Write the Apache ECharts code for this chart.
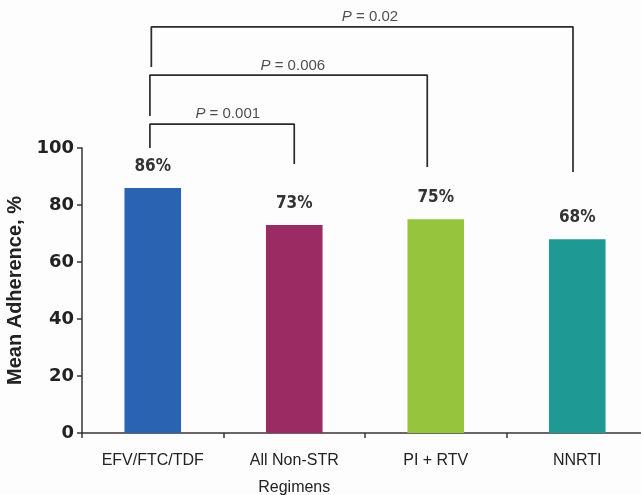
<!DOCTYPE html>
<html>
<head>
<meta charset="utf-8">
<script src="https://cdn.jsdelivr.net/npm/echarts@6/dist/echarts.min.js"></script>
<style>
html,body{margin:0;padding:0;background:#fdfdfe;}
#c{width:641px;height:495px;}
</style>
</head>
<body>
<div id="c"></div>
<script>
var categories = ['EFV/FTC/TDF', 'All Non-STR\nRegimens', 'PI + RTV', 'NNRTI'];
var values = [86, 73, 75, 68];
var barColors = ['#2a63b1', '#9a2c63', '#97c43d', '#1f9994'];
var yTicks = [0, 20, 40, 60, 80, 100];

// bracket: [leftX, rightX, leftBottom, top, rightBottom] in axis units
var bracket001 = [-0.02, 1.0, 100, 108.4, 94.4];
var bracket006 = [-0.02, 1.94, 111.2, 125.6, 93.3];
var bracket002 = [-0.01, 2.97, 128.4, 142.5, 91.6];
var pLabels = ['0.001', '0.006', '0.02'];
// label anchor [x, y]
var pLabelPos = [[0.53, 111.9], [0.99, 128.8], [1.535, 146.0]];

function bracketLine(b) {
  return {
    type: 'line',
    xAxisIndex: 1,
    yAxisIndex: 0,
    clip: false,
    symbol: 'none',
    silent: true,
    animation: false,
    lineStyle: { color: '#2b2b2b', width: 1.7 },
    data: [[b[0], b[2]], [b[0], b[3]], [b[1], b[3]], [b[1], b[4]]]
  };
}

var chart = echarts.init(document.getElementById('c'));
chart.setOption({
  backgroundColor: '#fdfdfe',
  animation: false,
  grid: { left: 82, top: 148, width: 566, height: 285, containLabel: false, outerBoundsMode: 'none' },
  xAxis: [{
    type: 'category',
    data: categories,
    axisLine: { lineStyle: { color: '#3b3535', width: 1.5 } },
    axisTick: { show: true, length: 5, lineStyle: { color: '#3b3535', width: 1.5 } },
    axisLabel: { fontFamily: 'Liberation Sans, Arial', fontSize: 16, color: '#222', margin: 14, lineHeight: 27 }
  }, {
    type: 'value',
    min: -0.5,
    max: 3.5,
    show: false
  }],
  yAxis: {
    type: 'value',
    min: 0,
    max: 100,
    interval: 20,
    name: 'Mean Adherence, %',
    nameLocation: 'middle',
    nameGap: 57,
    nameTextStyle: { fontFamily: 'Liberation Sans, Arial', fontSize: 20, fontWeight: 'bold', color: '#222' },
    splitLine: { show: false },
    axisLine: { show: true, onZero: false, lineStyle: { color: '#3b3535', width: 1.5 } },
    axisTick: { show: true, length: 5, lineStyle: { color: '#3b3535', width: 1.5 } },
    axisLabel: {
      fontFamily: 'DejaVu Sans', fontSize: 18, fontWeight: 'bold', color: '#222', margin: 8,
      formatter: function (v) { return yTicks.indexOf(v) >= 0 ? String(v) : ''; }
    }
  },
  series: [{
    type: 'bar',
    barWidth: '40%',
    data: values.map(function (v, i) {
      return { value: v, itemStyle: { color: barColors[i] } };
    }),
    label: {
      show: true,
      position: 'top',
      distance: 13,
      formatter: '{c}%',
      fontFamily: 'DejaVu Sans Condensed',
      fontWeight: 'bold',
      fontSize: 17,
      color: '#333'
    }
  },
  bracketLine(bracket001),
  bracketLine(bracket006),
  bracketLine(bracket002),
  {
    type: 'scatter',
    xAxisIndex: 1,
    yAxisIndex: 0,
    clip: false,
    symbolSize: 0,
    silent: true,
    data: pLabelPos.map(function (p, i) { return { value: p, name: pLabels[i] }; }),
    label: {
      show: true,
      position: 'inside',
      formatter: function (p) { return '{i|P} = ' + p.name; },
      fontFamily: 'Liberation Sans, Arial',
      fontSize: 15,
      color: '#222',
      rich: { i: { fontStyle: 'italic', fontFamily: 'Liberation Sans, Arial', fontSize: 15, color: '#222' } }
    }
  }]
});
</script>
</body>
</html>
